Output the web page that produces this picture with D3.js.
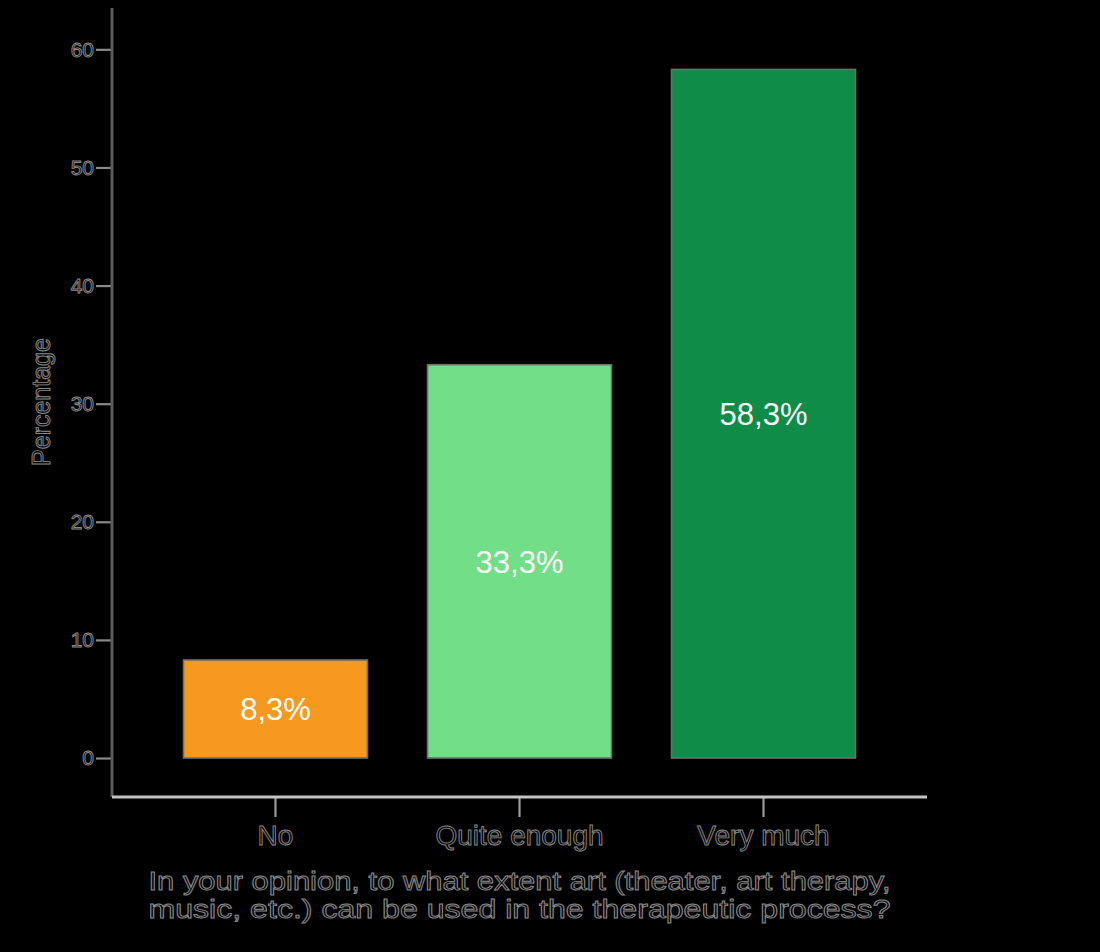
<!DOCTYPE html>
<html><head><meta charset="utf-8">
<script src="https://cdn.jsdelivr.net/npm/d3@7"></script>
<style>
html,body{margin:0;padding:0;background:#000;}
svg{display:block;}
text{font-family:"Liberation Sans",Arial,sans-serif;}
</style></head>
<body>
<svg id="chart" width="1100" height="952"></svg>
<script>
const categories = ["No", "Quite enough", "Very much"];
const values = [8.3, 33.3, 58.3];
const valueLabels = ["8,3%", "33,3%", "58,3%"];
const barColors = ["#f7991f", "#72de87", "#0f8c47"];
const yTicks = [0, 10, 20, 30, 40, 50, 60];
const yTitle = "Percentage";
const xTitleLines = ["In your opinion, to what extent art (theater, art therapy,",
                     "music, etc.) can be used in the therapeutic process?"];

const svg = d3.select("#chart");
svg.append("rect").attr("width",1100).attr("height",952).attr("fill","#000");

const x = d3.scaleBand().domain(categories).range([112, 927])
  .paddingInner(0.246).paddingOuter(0.293);
const y = d3.scaleLinear().domain([-3.3, 63.5]).range([797, 8]);

const textStyle = sel => sel.attr("fill","#000").attr("stroke","rgba(235,235,235,0.6)").attr("stroke-width",0.9);

// bars
svg.selectAll("rect.bar").data(values).join("rect").attr("class","bar")
  .attr("x",(d,i)=>x(categories[i]))
  .attr("width",x.bandwidth())
  .attr("y",d=>y(d))
  .attr("height",d=>y(0)-y(d))
  .attr("fill",(d,i)=>barColors[i])
  .attr("stroke","#6e6e6e").attr("stroke-width",1.6);

// bar labels
svg.selectAll("text.vl").data(values).join("text").attr("class","vl")
  .attr("x",(d,i)=>x(categories[i])+x.bandwidth()/2)
  .attr("y",d=>(y(d)+y(0))/2)
  .attr("dy","0.36em")
  .attr("text-anchor","middle")
  .attr("font-size",31)
  .attr("fill","#fff")
  .text((d,i)=>valueLabels[i]);

// y axis
const yAxis = d3.axisLeft(y).tickValues(yTicks).tickSize(16).tickPadding(2).tickFormat(d3.format("d"));
const gy = svg.append("g").attr("transform","translate(112,0)").call(yAxis);
gy.select(".domain").remove();
gy.selectAll(".tick line").attr("stroke","#8a8a8a").attr("stroke-width",2.2);
gy.selectAll(".tick text").attr("font-size",21).attr("font-family","Liberation Sans, Arial, sans-serif").call(textStyle);
svg.append("line").attr("x1",112).attr("x2",112).attr("y1",y(63.5)).attr("y2",y(-3.3))
  .attr("stroke","#5a5a5a").attr("stroke-width",3);

// x axis
const xAxis = d3.axisBottom(x).tickSize(20).tickPadding(8);
const gx = svg.append("g").attr("transform",`translate(0,${y(-3.3)})`).call(xAxis);
gx.select(".domain").remove();
gx.selectAll(".tick line").attr("stroke","#9a9a9a").attr("stroke-width",2.2);
gx.selectAll(".tick text").attr("font-size",28).attr("font-family","Liberation Sans, Arial, sans-serif").call(textStyle);
svg.append("line").attr("x1",112).attr("x2",927).attr("y1",y(-3.3)).attr("y2",y(-3.3))
  .attr("stroke","#c4c4c4").attr("stroke-width",3);

// y title
svg.append("text").attr("transform","translate(50,402) rotate(-90)")
  .attr("text-anchor","middle").attr("font-size",25).text(yTitle).call(textStyle);

// x title
xTitleLines.forEach((t,i)=>{
  svg.append("text").attr("text-anchor","middle").attr("font-size",25)
    .attr("x",(112+927)/2).attr("y",890+i*28)
    .attr("textLength",742).attr("lengthAdjust","spacingAndGlyphs")
    .text(t).call(textStyle);
});
</script>
</body></html>
